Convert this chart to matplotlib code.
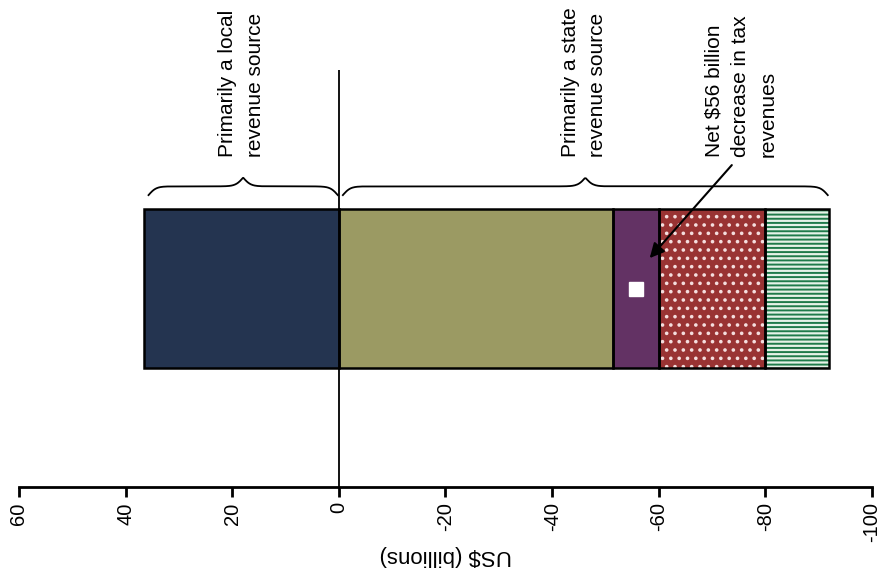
import numpy as np
import matplotlib.pyplot as plt

plt.rcParams['font.family'] = ['Liberation Sans', 'DejaVu Sans']
plt.rcParams['hatch.linewidth'] = 1.4

# revenue change by source, US$ billions (positive = increase)
local_vals = [36.5]
state_vals = [-51.5, -8.5, -20.0, -12.0]
local_colors = ['#243450']
state_colors = ['#9b9a63', '#633264', '#993333', '#e6f2e8']
state_hatch = [None, None, '..', '----']
hatch_colors = [None, None, '#f4dede', '#1f7a4a']
net_change = sum(local_vals) + sum(state_vals)

xticks = [60, 40, 20, 0, -20, -40, -60, -80, -100]

bar_y = 0.476
bar_h = 0.381

fig = plt.figure(figsize=(8.82, 5.82), dpi=100)
ax = fig.add_axes([0.0215, 0.1632, 0.9672, 0.7165])
ax.set_xlim(60, -100)
ax.set_ylim(0, 1)


def stack(vals, colors, hatches, hcols, start=0.0):
    left = start
    for v, c, h, hc in zip(vals, colors, hatches, hcols):
        if h:
            ax.barh(bar_y, v, left=left, height=bar_h, color=c, hatch=h,
                    edgecolor=hc, linewidth=0, zorder=2)
        else:
            ax.barh(bar_y, v, left=left, height=bar_h, color=c, linewidth=0, zorder=2)
        ax.barh(bar_y, v, left=left, height=bar_h, fill=False,
                edgecolor='black', linewidth=1.8, zorder=3)
        left += v
    return left


stack(local_vals, local_colors, [None], [None])
state_end = stack(state_vals, state_colors, state_hatch, hatch_colors)

# small white box on the purple segment
purple_mid = state_vals[0] + state_vals[1] / 2
ax.plot(purple_mid, bar_y, marker='s', ms=10, color='white', zorder=4)

ax.axvline(0, color='black', lw=1.3, zorder=1)


def brace(x0, x1, y0, h, beta=1.4):
    x = np.linspace(min(x0, x1), max(x0, x1), 400)
    mid = (x[0] + x[-1]) / 2
    d = np.minimum(x - x[0], x[-1] - x)
    half = 1 / (1 + np.exp(-beta * d)) + 1 / (1 + np.exp(-beta * (d - (mid - x[0]))))
    y = y0 + (half - 0.5) * h
    ax.plot(x, y, color='black', lw=1.3, clip_on=False)


brace(sum(local_vals) - 0.8, 0.2, 0.700, 0.042)
brace(-0.75, state_end + 0.3, 0.700, 0.042)

fs = 15
ax.text(sum(local_vals) / 2, 0.791, 'Primarily a local\nrevenue source', rotation=90,
        ha='center', va='bottom', multialignment='left', fontsize=fs,
        linespacing=1.55, clip_on=False)
ax.text(state_end / 2, 0.791, 'Primarily a state\nrevenue source', rotation=90,
        ha='center', va='bottom', multialignment='left', fontsize=fs,
        linespacing=1.55, clip_on=False)
ax.text(-75.4, 0.791, 'Net $%d billion\ndecrease in tax\nrevenues' % abs(round(net_change)),
        rotation=90, ha='center', va='bottom', multialignment='left', fontsize=fs,
        linespacing=1.55, clip_on=False)
ax.annotate('', xy=(-58.3, 0.549), xytext=(-73.7, 0.772),
            arrowprops=dict(arrowstyle='-|>', color='black', lw=1.5, mutation_scale=22,
                            shrinkA=0, shrinkB=0))

for s in ['top', 'left', 'right']:
    ax.spines[s].set_visible(False)
ax.spines['bottom'].set_linewidth(2)
ax.set_yticks([])
ax.set_xticks(xticks)
ax.set_xticklabels([str(t) for t in xticks], rotation=90, fontsize=14.5)
ax.tick_params(axis='x', length=7, width=2, pad=4)
ax.set_xlabel('US$ (billions)', rotation=180, fontsize=16, labelpad=2)

fig.savefig('out.png', dpi=100)
